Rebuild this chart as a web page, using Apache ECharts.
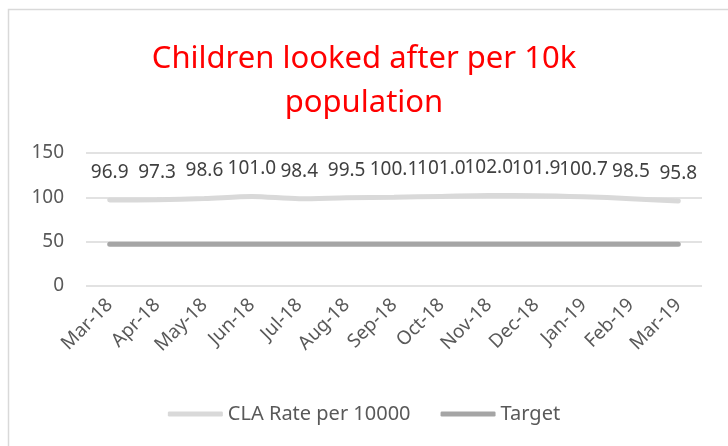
<!DOCTYPE html>
<html>
<head>
<meta charset="utf-8">
<script src="https://cdn.jsdelivr.net/npm/echarts@6/dist/echarts.min.js"></script>
<style>
  html, body { margin: 0; padding: 0; background: #fff; }
  #chart { width: 728px; height: 446px; }
</style>
</head>
<body>
<div id="chart"></div>
<script>
// data
var months = ['Mar-18', 'Apr-18', 'May-18', 'Jun-18', 'Jul-18', 'Aug-18', 'Sep-18',
              'Oct-18', 'Nov-18', 'Dec-18', 'Jan-19', 'Feb-19', 'Mar-19'];
var claRate = [96.9, 97.3, 98.6, 101.0, 98.4, 99.5, 100.1, 101.0, 102.0, 101.9, 100.7, 98.5, 95.8];
var target = [47, 47, 47, 47, 47, 47, 47, 47, 47, 47, 47, 47, 47];
var yTicks = [0, 50, 100, 150];

var font = 'Noto Sans';
var myChart = echarts.init(document.getElementById('chart'));

var option = {
    backgroundColor: '#fff',
    animation: false,
    // outer chart border
    graphic: [{
        type: 'rect',
        shape: { x: 8.5, y: 9.5, width: 740, height: 460 },
        style: { fill: null, stroke: '#d9d9d9', lineWidth: 1.5 },
        silent: true
    }],
    title: {
        text: 'Children looked after per 10k\npopulation',
        left: 'center',
        top: 32,
        textStyle: {
            color: '#ff0000',
            fontFamily: font,
            fontWeight: 'normal',
            fontSize: 31,
            lineHeight: 44
        }
    },
    legend: {
        bottom: 17,
        left: 'center',
        itemWidth: 55,
        itemHeight: 5,
        itemGap: 30,
        icon: 'roundRect',
        textStyle: { color: '#595959', fontFamily: font, fontSize: 20 },
        data: ['CLA Rate per 10000', 'Target']
    },
    grid: { left: 86, right: 26, top: 153, bottom: 160 },
    xAxis: {
        type: 'category',
        data: months,
        boundaryGap: true,
        axisLine: { show: false },
        axisTick: { show: false },
        axisLabel: {
            rotate: 45,
            interval: 0,
            margin: 16,
            color: '#595959',
            fontFamily: font,
            fontSize: 19
        }
    },
    yAxis: {
        type: 'value',
        min: yTicks[0],
        max: yTicks[yTicks.length - 1],
        interval: 50,
        axisLine: { show: false },
        axisTick: { show: false },
        axisLabel: { color: '#595959', fontFamily: font, fontSize: 19, margin: 22 },
        splitLine: { lineStyle: { color: '#d9d9d9', width: 1.5 } }
    },
    series: [
        {
            name: 'CLA Rate per 10000',
            type: 'line',
            data: claRate,
            smooth: 0.3,
            symbol: 'circle',
            symbolSize: 0,
            showSymbol: true,
            lineStyle: { color: '#d9d9d9', width: 5, cap: 'round' },
            itemStyle: { color: '#d9d9d9' },
            label: {
                show: true,
                position: 'top',
                distance: 18,
                formatter: function (p) { return p.value.toFixed(1); },
                color: '#404040',
                fontFamily: font,
                fontSize: 19
            }
        },
        {
            name: 'Target',
            type: 'line',
            data: target,
            symbol: 'none',
            lineStyle: { color: '#a5a5a5', width: 5, cap: 'round' },
            itemStyle: { color: '#a5a5a5' }
        }
    ]
};

myChart.setOption(option);
window.onresize = myChart.resize;
</script>
</body>
</html>
